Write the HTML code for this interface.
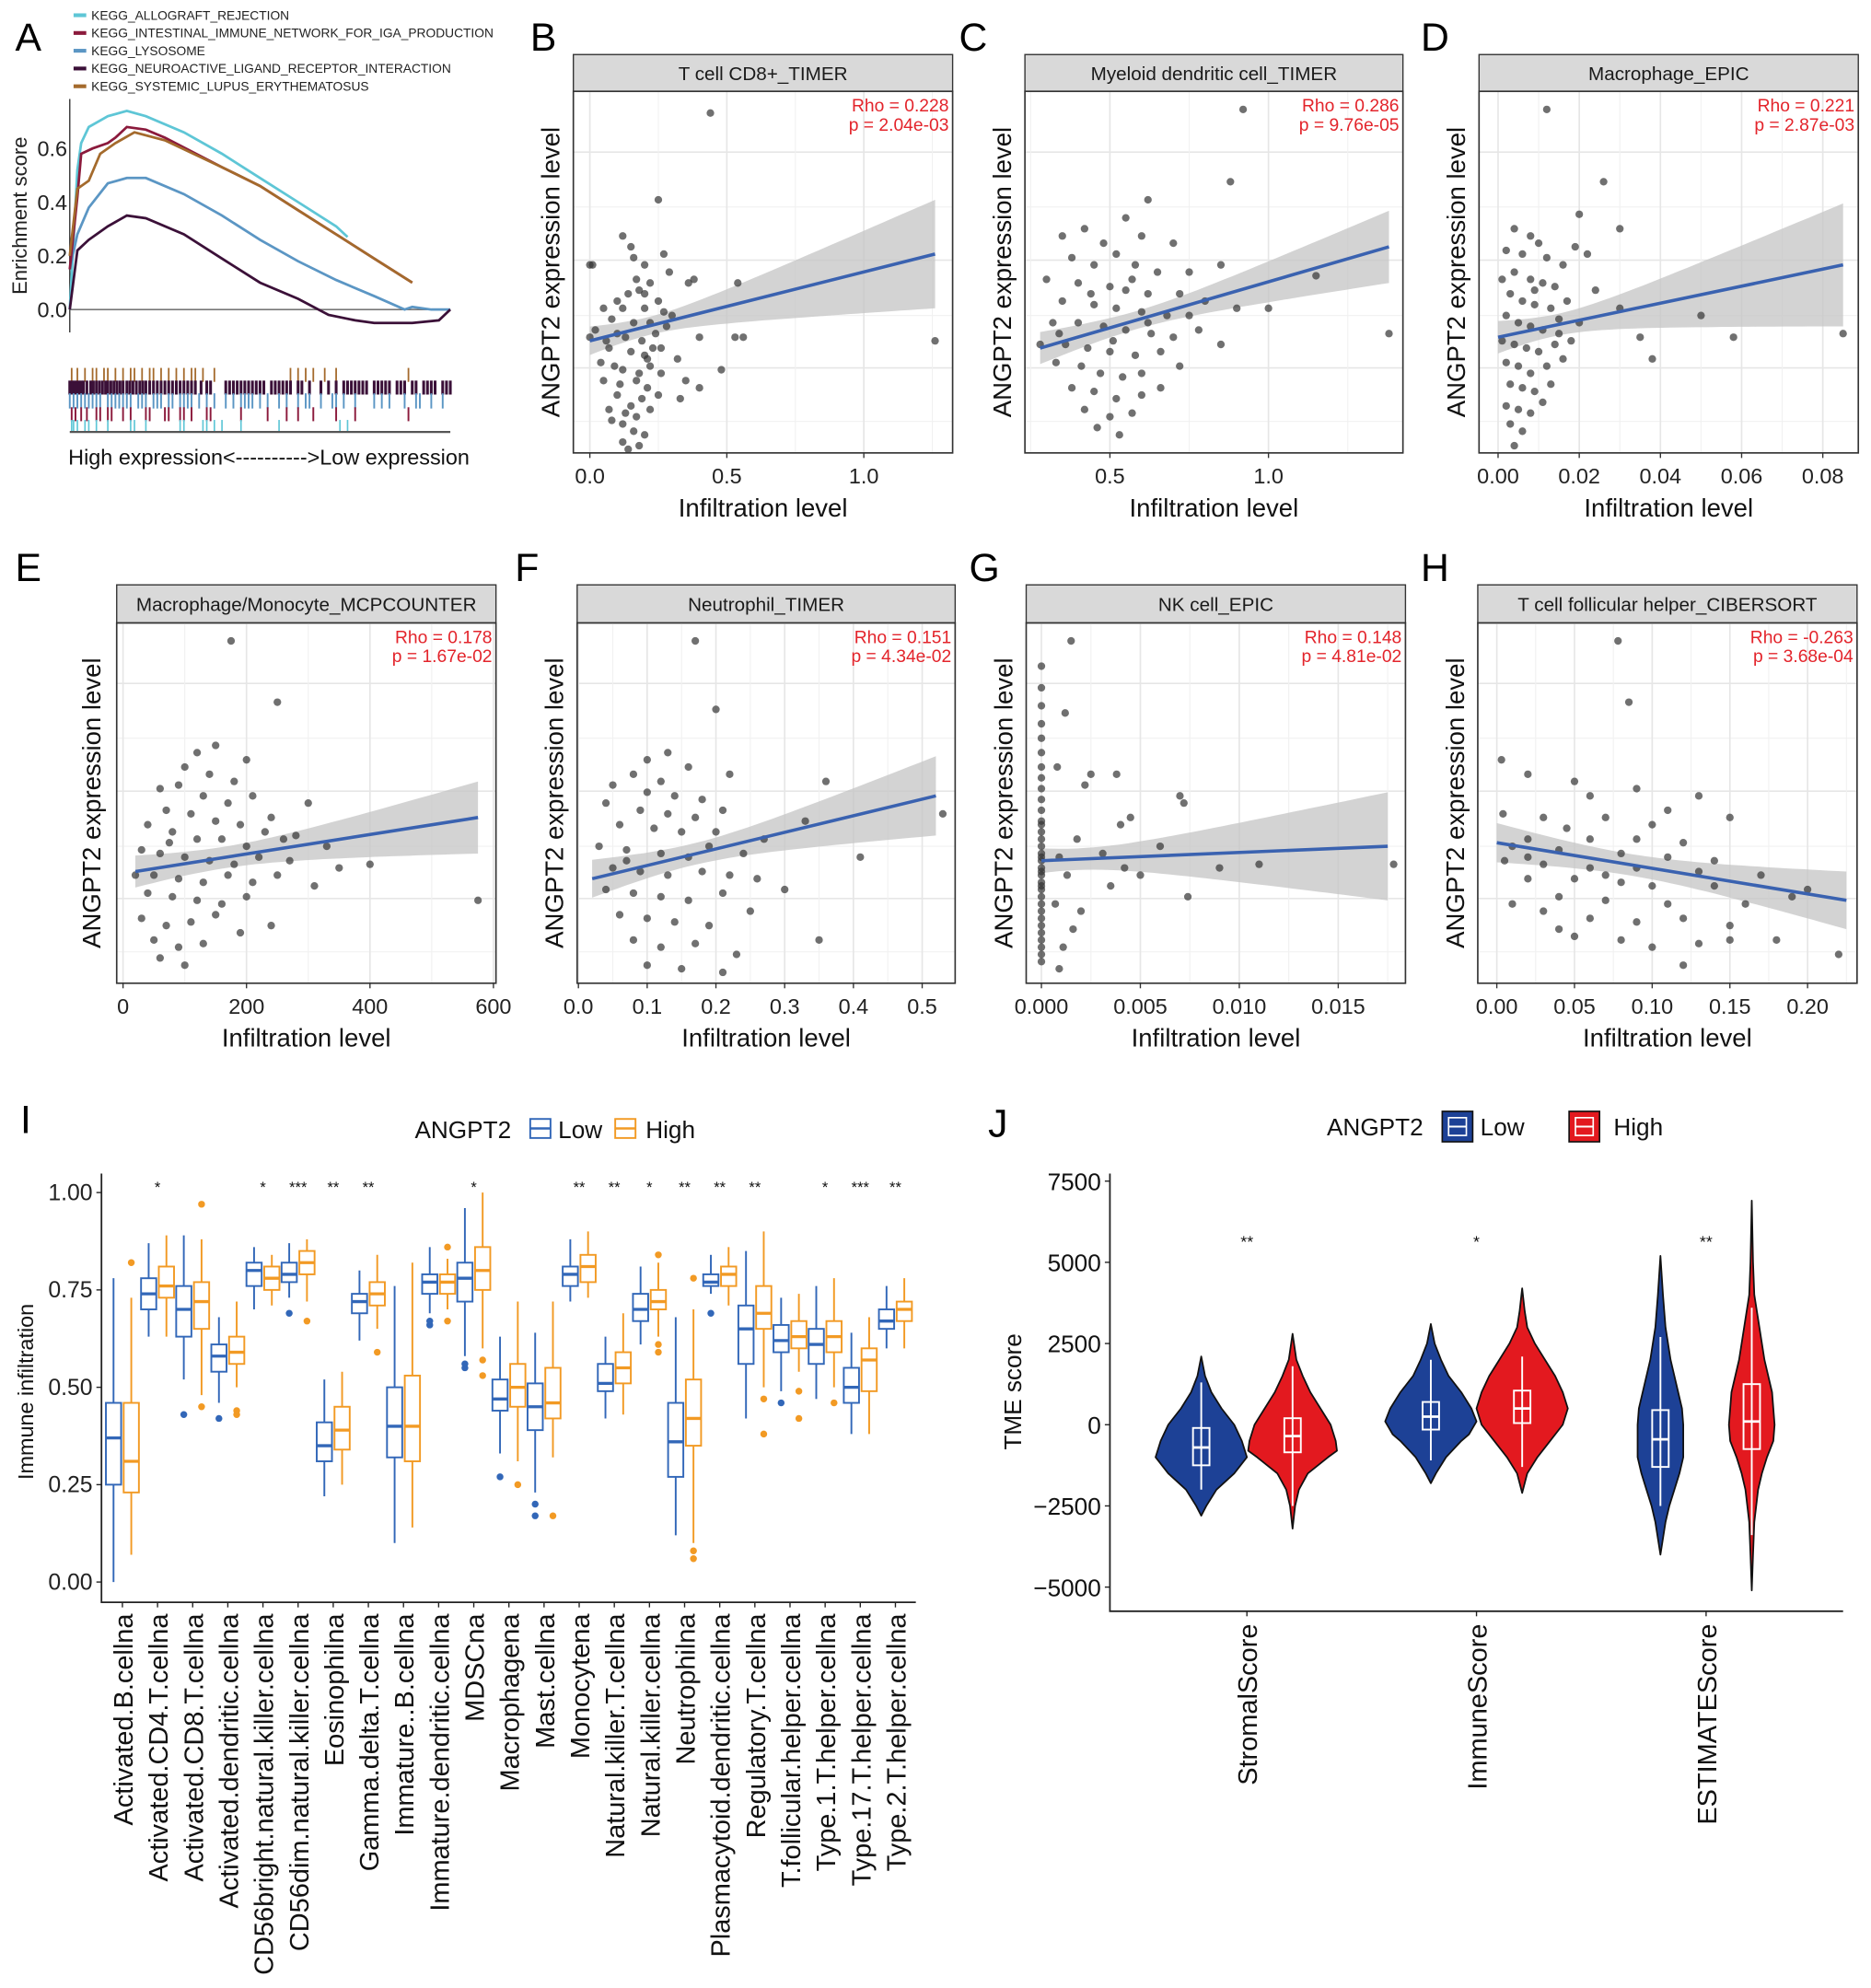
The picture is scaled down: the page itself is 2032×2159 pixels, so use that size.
<!DOCTYPE html>
<html><head><meta charset="utf-8"><style>
html,body{margin:0;padding:0;background:#fff;}
svg{display:block;font-family:"Liberation Sans",Arial,sans-serif;}
</style></head><body>
<svg id="fig" xmlns="http://www.w3.org/2000/svg" width="2032" height="2159" viewBox="0 0 1475 1567" preserveAspectRatio="none"></svg>
<script>
// ---------------- Panel A data ----------------
const gseaNames = ["KEGG_ALLOGRAFT_REJECTION","KEGG_INTESTINAL_IMMUNE_NETWORK_FOR_IGA_PRODUCTION","KEGG_LYSOSOME","KEGG_NEUROACTIVE_LIGAND_RECEPTOR_INTERACTION","KEGG_SYSTEMIC_LUPUS_ERYTHEMATOSUS"];
const gseaColors = ["#5ec6d6","#8b1a3c","#5b96c4","#3b1038","#a46a2c"];
const esAllograftX = [0,0.02,0.03,0.05,0.1,0.15,0.2,0.3,0.4,0.5,0.6,0.7,0.73];
const esAllograftY = [0,0.52,0.62,0.68,0.72,0.74,0.72,0.66,0.58,0.49,0.40,0.31,0.27];
const esIgaX = [0,0.02,0.03,0.06,0.1,0.12,0.15,0.2,0.25,0.4,0.5,0.6,0.7,0.8,0.9];
const esIgaY = [0.15,0.42,0.58,0.60,0.62,0.64,0.68,0.67,0.64,0.53,0.46,0.37,0.28,0.19,0.10];
const esLysoX = [0,0.02,0.05,0.1,0.15,0.2,0.3,0.4,0.5,0.6,0.7,0.8,0.88,0.9,0.95,1.0];
const esLysoY = [0.15,0.28,0.38,0.47,0.49,0.49,0.43,0.35,0.26,0.18,0.11,0.05,0.0,0.01,0.0,0.0];
const esNeuroX = [0,0.02,0.05,0.1,0.15,0.2,0.3,0.4,0.5,0.6,0.68,0.75,0.8,0.9,0.97,1.0];
const esNeuroY = [0.0,0.22,0.26,0.31,0.35,0.34,0.28,0.19,0.10,0.04,-0.02,-0.04,-0.05,-0.05,-0.04,0.0];
const esSleX = [0,0.02,0.05,0.08,0.12,0.17,0.25,0.4,0.5,0.6,0.7,0.8,0.9];
const esSleY = [0.2,0.45,0.48,0.58,0.62,0.66,0.63,0.53,0.46,0.37,0.28,0.19,0.10];
const esTicks = [0.0,0.2,0.4,0.6];
const esTickLabels = ["0.0","0.2","0.4","0.6"];
const rugBrown = [0.005,0.02,0.04,0.06,0.07,0.09,0.1,0.12,0.14,0.16,0.17,0.19,0.21,0.22,0.24,0.26,0.28,0.3,0.32,0.33,0.35,0.38,0.58,0.6,0.62,0.64,0.67,0.7,0.89];
const rugDark = [0,0.006,0.012,0.018,0.024,0.03,0.036,0.045,0.055,0.062,0.07,0.078,0.086,0.094,0.1,0.108,0.116,0.124,0.132,0.14,0.15,0.158,0.166,0.175,0.184,0.192,0.2,0.21,0.22,0.23,0.24,0.25,0.26,0.27,0.28,0.29,0.3,0.31,0.32,0.33,0.345,0.36,0.37,0.41,0.42,0.43,0.44,0.45,0.46,0.47,0.48,0.49,0.5,0.51,0.53,0.54,0.55,0.56,0.57,0.58,0.6,0.61,0.63,0.66,0.68,0.7,0.72,0.73,0.74,0.75,0.76,0.77,0.78,0.8,0.81,0.82,0.83,0.84,0.86,0.87,0.88,0.9,0.91,0.93,0.94,0.95,0.96,0.98,0.99,1.0];
const rugBlue = [0,0.01,0.02,0.03,0.04,0.05,0.06,0.07,0.08,0.1,0.11,0.12,0.13,0.14,0.15,0.16,0.18,0.19,0.2,0.22,0.23,0.24,0.26,0.27,0.29,0.3,0.31,0.32,0.34,0.36,0.38,0.41,0.43,0.45,0.46,0.47,0.48,0.5,0.52,0.55,0.57,0.6,0.62,0.63,0.66,0.69,0.7,0.72,0.75,0.8,0.82,0.84,0.88,0.91,0.92,0.95,0.98];
const rugRed = [0.005,0.015,0.03,0.045,0.07,0.08,0.1,0.11,0.14,0.16,0.2,0.21,0.25,0.26,0.29,0.3,0.32,0.36,0.37,0.45,0.52,0.57,0.6,0.64,0.7,0.75,0.89];
const rugCyan = [0.005,0.01,0.02,0.04,0.05,0.07,0.1,0.16,0.17,0.2,0.29,0.3,0.35,0.36,0.38,0.4,0.45,0.55,0.71,0.73];

// ---------------- Scatter data (x: infiltration, y: expression 0-100 of panel) ----------------
const bX=[0.44,0.25,0.12,0.0,0.01,0.27,0.15,0.16,0.2,0.29,0.36,0.38,0.54,0.22,0.18,0.14,0.1,0.05,0.12,0.2,0.25,0.3,0.08,0.16,0.22,0.28,0.0,0.02,0.1,0.13,0.19,0.24,0.4,0.53,0.56,1.26,0.07,0.15,0.2,0.26,0.32,0.48,0.09,0.12,0.18,0.22,0.26,0.05,0.11,0.17,0.21,0.35,0.4,0.1,0.15,0.19,0.25,0.33,0.07,0.13,0.17,0.22,0.08,0.12,0.16,0.2,0.12,0.18,0.14,0.21,0.06,0.04,0.23,0.27,0.2,0.17];
const bY=[94,70,60,52,52,55,57,54,52,50,47,48,47,47,45,44,42,40,40,40,42,38,37,36,36,35,32,34,33,32,31,33,32,32,32,31,29,28,27,29,26,23,24,23,22,24,22,20,19,20,18,20,18,16,13,15,16,15,12,11,10,12,9,8,6,5,3,2,1,26,31,25,29,39,44,48];
const cX=[0.92,0.88,0.62,0.55,0.35,0.42,0.6,0.7,0.48,0.52,0.38,0.45,0.58,0.65,0.75,0.85,1.15,0.3,0.4,0.5,0.55,0.62,0.72,0.8,0.35,0.45,0.52,0.6,0.68,0.9,1.0,0.32,0.4,0.48,0.55,0.63,0.7,0.78,0.28,0.36,0.43,0.5,0.58,0.66,0.85,1.38,0.33,0.41,0.47,0.54,0.6,0.72,0.38,0.45,0.52,0.6,0.66,0.42,0.5,0.57,0.46,0.53,0.62,0.75,0.44,0.57,0.34,0.51];
const cY=[95,75,70,65,60,62,60,58,58,55,54,52,52,50,50,52,49,48,47,46,45,44,44,42,42,41,40,39,38,40,40,36,36,35,34,33,32,34,30,30,29,28,27,28,30,33,25,24,22,21,22,24,18,17,15,16,18,12,10,11,7,5,36,38,44,48,33,31];
const dX=[0.012,0.026,0.02,0.03,0.004,0.008,0.01,0.002,0.006,0.012,0.016,0.022,0.019,0.004,0.008,0.011,0.014,0.003,0.006,0.009,0.013,0.017,0.024,0.002,0.005,0.008,0.011,0.015,0.02,0.05,0.001,0.004,0.007,0.01,0.014,0.018,0.035,0.058,0.085,0.002,0.005,0.008,0.012,0.016,0.038,0.003,0.006,0.009,0.013,0.002,0.005,0.008,0.011,0.003,0.006,0.004,0.009,0.001,0.015,0.03];
const dY=[95,75,66,62,62,60,58,56,55,54,52,55,57,50,48,47,46,44,42,41,40,42,45,38,36,35,34,33,36,38,31,30,29,28,30,31,32,32,33,25,24,22,24,26,26,19,18,17,19,13,12,11,14,8,6,2,45,48,37,40];
const eX=[175,250,150,120,200,100,140,180,90,60,130,170,210,300,240,70,110,150,190,230,40,80,120,160,200,260,330,30,60,100,140,180,220,270,400,20,50,90,130,170,210,250,575,40,80,120,160,200,30,70,110,150,190,240,50,90,130,60,100,280,350,75,310];
const eY=[95,78,66,64,62,60,58,56,55,54,52,50,52,50,46,48,47,45,44,42,44,42,40,40,38,40,38,37,36,35,34,33,35,34,33,30,30,29,28,30,28,30,23,25,24,23,22,24,18,16,17,19,14,16,12,10,11,7,5,41,32,39,27];
const fX=[0.17,0.2,0.13,0.1,0.16,0.08,0.12,0.22,0.36,0.05,0.1,0.14,0.18,0.04,0.09,0.13,0.17,0.21,0.06,0.11,0.15,0.2,0.27,0.33,0.03,0.07,0.12,0.16,0.24,0.05,0.09,0.13,0.18,0.22,0.41,0.53,0.04,0.08,0.12,0.16,0.21,0.3,0.06,0.1,0.14,0.19,0.25,0.08,0.12,0.17,0.23,0.1,0.15,0.21,0.35,0.07,0.19,0.26];
const fY=[95,76,64,62,60,58,56,58,56,55,53,52,51,50,48,47,46,48,44,43,42,42,40,45,38,37,36,35,36,32,31,30,31,30,35,47,26,25,24,23,25,26,19,18,17,16,20,12,10,11,8,5,4,3,12,34,38,29];
const gX=[0,0,0,0,0,0,0,0,0,0,0,0,0,0,0,0,0,0,0,0,0,0,0,0,0,0,0,0,0,0,0,0,0,0,0,0.0015,0.0012,0.0008,0.0025,0.0038,0.0072,0.007,0.0022,0.004,0.0018,0.006,0.0009,0.0013,0.0042,0.011,0.0178,0.005,0.0035,0.0074,0.0007,0.002,0.0016,0.0011,0.0009,0.009,0.0031,0.0045];
const gY=[88,82,77,72,68,64,60,57,54,51,48,45,42,40,38,36,34,32,30,28,26,24,22,20,18,16,14,12,10,8,6,44,35,31,27,95,75,60,58,58,50,52,55,44,40,38,35,30,32,33,33,30,27,24,22,20,15,10,4,32,36,46];
const hX=[0.078,0.085,0.003,0.02,0.05,0.09,0.13,0.06,0.11,0.004,0.03,0.07,0.15,0.1,0.045,0.02,0.06,0.09,0.12,0.01,0.04,0.08,0.11,0.14,0.005,0.03,0.06,0.09,0.13,0.17,0.02,0.05,0.08,0.1,0.14,0.2,0.04,0.07,0.11,0.16,0.01,0.03,0.06,0.09,0.12,0.15,0.05,0.08,0.1,0.13,0.15,0.18,0.22,0.12,0.04,0.19,0.02,0.07];
const hY=[95,78,62,58,56,54,52,52,48,47,46,46,46,44,43,40,40,40,39,38,37,36,35,34,34,33,32,32,31,30,29,29,28,27,27,26,24,23,22,22,22,20,18,17,18,16,13,12,10,11,12,12,8,5,15,24,35,30];
// regression lines [xStart, yStart, xEnd, yEnd]
const lineB=[0,31,1.26,55], lineC=[0.28,29,1.38,57], lineD=[0,32,0.085,52], lineE=[20,31,575,46];
const lineF=[0.02,29,0.52,52], lineG=[0,34,0.0175,38], lineH=[0,39,0.225,23];
const rhoVals=["0.228","0.286","0.221","0.178","0.151","0.148","-0.263"];
const pVals=["2.04e-03","9.76e-05","2.87e-03","1.67e-02","4.34e-02","4.81e-02","3.68e-04"];
const tickB=[0,0.5,1.0], tickBL=["0.0","0.5","1.0"];
const tickC=[0.5,1.0], tickCL=["0.5","1.0"];
const tickD=[0,0.02,0.04,0.06,0.08], tickDL=["0.00","0.02","0.04","0.06","0.08"];
const tickE=[0,200,400,600], tickEL=["0","200","400","600"];
const tickF=[0,0.1,0.2,0.3,0.4,0.5], tickFL=["0.0","0.1","0.2","0.3","0.4","0.5"];
const tickG=[0,0.005,0.01,0.015], tickGL=["0.000","0.005","0.010","0.015"];
const tickH=[0,0.05,0.1,0.15,0.2], tickHL=["0.00","0.05","0.10","0.15","0.20"];

// ---------------- Panel I data ----------------
const cellTypes=["Activated.B.cellna","Activated.CD4.T.cellna","Activated.CD8.T.cellna","Activated.dendritic.cellna","CD56bright.natural.killer.cellna","CD56dim.natural.killer.cellna","Eosinophilna","Gamma.delta.T.cellna","Immature..B.cellna","Immature.dendritic.cellna","MDSCna","Macrophagena","Mast.cellna","Monocytena","Natural.killer.T.cellna","Natural.killer.cellna","Neutrophilna","Plasmacytoid.dendritic.cellna","Regulatory.T.cellna","T.follicular.helper.cellna","Type.1.T.helper.cellna","Type.17.T.helper.cellna","Type.2.T.helper.cellna"];
// [lower whisker, q1, median, q3, upper whisker]
const lowStats=[[0,0.25,0.37,0.46,0.78],[0.63,0.70,0.74,0.78,0.87],[0.52,0.63,0.70,0.76,0.89],[0.46,0.54,0.58,0.61,0.68],[0.70,0.76,0.80,0.82,0.86],[0.73,0.77,0.79,0.82,0.87],[0.22,0.31,0.35,0.41,0.52],[0.62,0.69,0.72,0.74,0.80],[0.10,0.32,0.40,0.50,0.76],[0.69,0.74,0.77,0.79,0.86],[0.58,0.72,0.78,0.82,0.96],[0.33,0.44,0.47,0.52,0.63],[0.23,0.39,0.45,0.51,0.64],[0.72,0.76,0.79,0.81,0.88],[0.42,0.49,0.51,0.56,0.63],[0.61,0.67,0.70,0.74,0.81],[0.12,0.27,0.36,0.46,0.68],[0.74,0.76,0.77,0.79,0.84],[0.42,0.56,0.65,0.71,0.85],[0.49,0.59,0.62,0.66,0.73],[0.47,0.56,0.61,0.65,0.76],[0.38,0.46,0.50,0.55,0.64],[0.60,0.65,0.67,0.70,0.76]];
const highStats=[[0.07,0.23,0.31,0.46,0.73],[0.63,0.73,0.76,0.81,0.89],[0.48,0.65,0.72,0.77,0.88],[0.50,0.56,0.59,0.63,0.72],[0.71,0.75,0.78,0.81,0.84],[0.72,0.79,0.82,0.85,0.88],[0.25,0.34,0.39,0.45,0.54],[0.65,0.71,0.74,0.77,0.84],[0.14,0.31,0.40,0.53,0.82],[0.70,0.74,0.77,0.79,0.83],[0.60,0.75,0.80,0.86,1.00],[0.31,0.45,0.50,0.56,0.72],[0.32,0.42,0.46,0.55,0.72],[0.73,0.77,0.81,0.84,0.90],[0.43,0.51,0.55,0.59,0.69],[0.63,0.70,0.72,0.75,0.82],[0.10,0.35,0.42,0.52,0.70],[0.71,0.76,0.79,0.81,0.86],[0.50,0.65,0.69,0.76,0.90],[0.54,0.60,0.63,0.67,0.74],[0.50,0.59,0.63,0.67,0.78],[0.38,0.49,0.57,0.60,0.68],[0.60,0.67,0.70,0.72,0.78]];
const lowOut=[[],[],[0.43],[0.42],[],[0.69],[],[],[],[0.66,0.67],[0.55,0.56],[0.27],[0.17,0.20],[],[],[],[],[0.69],[],[0.46],[],[],[]];
const highOut=[[0.82],[],[0.45,0.97],[0.43,0.44],[],[0.67],[],[0.59],[],[0.67,0.86],[0.53,0.57],[0.25],[0.17],[],[],[0.59,0.61,0.84],[0.06,0.08,0.78],[],[0.38,0.47],[0.42,0.49],[0.46],[],[]];
const sigStars=["","*","","","*","***","**","**","","","*","","","**","**","*","**","**","**","","*","***","**"];
const iTicks=[0,0.25,0.5,0.75,1.0], iTickLabels=["0.00","0.25","0.50","0.75","1.00"];

// ---------------- Panel J data ----------------
const tmeGroups=["StromalScore","ImmuneScore","ESTIMATEScore"];
const tmeStars=["**","*","**"];
const jTicks=[-5000,-2500,0,2500,5000,7500], jTickLabels=["\u22125000","\u22122500","0","2500","5000","7500"];
const vStromalLowV=[2100,1500,1000,500,0,-500,-1000,-1500,-2000,-2500,-2800], vStromalLowW=[0,3,8,16,26,32,36,26,12,4,0];
const vStromalHighV=[2800,2000,1500,1000,500,0,-500,-800,-1000,-1500,-2000,-2500,-3200], vStromalHighW=[0,3,8,14,22,30,34,35,28,12,5,2,0];
const vImmuneLowV=[3100,2500,2000,1500,1000,500,100,-300,-500,-1000,-1500,-1800], vImmuneLowW=[0,3,8,14,24,32,36,30,24,12,4,0];
const vImmuneHighV=[4200,3500,3000,2500,2000,1500,1000,500,0,-500,-1000,-1500,-2100], vImmuneHighW=[0,2,4,10,18,26,32,36,32,22,12,4,0];
const vEstLowV=[5200,4000,3000,2000,1000,500,0,-1000,-1500,-2000,-2500,-3000,-3500,-4000], vEstLowW=[0,2,4,8,14,17,18,18,15,11,7,4,2,0];
const vEstHighV=[6900,5000,4000,3000,2000,1000,0,-500,-1000,-1500,-2000,-3000,-4000,-5100], vEstHighW=[0,1,2,6,10,16,18,17,12,8,5,2,1,0];
// [lower whisker, q1, median, q3, upper whisker]
const tmeLowBox=[[-2000,-1250,-700,-100,1300],[-1100,-150,250,700,2000],[-2500,-1300,-450,450,2700]];
const tmeHighBox=[[-2500,-850,-350,200,1800],[-1300,50,500,1050,2100],[-3400,-750,100,1250,3600]];

// =============== drawing ===============
const NS="http://www.w3.org/2000/svg";
const svg=document.getElementById("fig");
function mk(tag,attrs,parent){const e=document.createElementNS(NS,tag);for(const k in attrs)e.setAttribute(k,attrs[k]);(parent||svg).appendChild(e);return e;}
function tx(str,attrs,parent){const e=mk("text",attrs,parent);e.textContent=str;return e;}
function lin(d0,p0,d1,p1){return v=>p0+(v-d0)*(p1-p0)/(d1-d0);}

function letter(ch,x,y){
  const t=tx(ch,{x:x,y:y,"font-size":31,fill:"#000"});
  
  
}
[["A",12,40],["B",418,40],["C",756,40],["D",1120,40],["E",12,458],["F",406,458],["G",764,458],["H",1120,458],["I",16,893],["J",779,896]].forEach(a=>letter(a[0],a[1],a[2]));

// ---- Panel A ----
(function(){
  const g=mk("g",{});
  
  
  const xs=lin(0,55,1,355), ys=lin(0,244,0.6,117);
  gseaNames.forEach((n,i)=>{
    const y=12+i*14;
    const l=mk("line",{x1:58,x2:68,y1:y,y2:y,stroke:gseaColors[i],"stroke-width":3},g);
    
    
    const t=tx(n,{x:72,y:y+3.5,"font-size":10,fill:"#222"},g);
    
    
  });
  const ax=mk("line",{x1:55,x2:55,y1:78,y2:262,stroke:"#333","stroke-width":1},g);
  
  
  const zl=mk("line",{x1:55,x2:355,y1:ys(0),y2:ys(0),stroke:"#777","stroke-width":1.2},g);
  
  
  esTicks.forEach((v,i)=>{
    const t=tx(esTickLabels[i],{x:53,y:ys(v)+6,"font-size":17,"text-anchor":"end",fill:"#222"},g);
    
    
  });
  const yt=tx("Enrichment score",{x:0,y:0,"font-size":16,"text-anchor":"middle",fill:"#222",transform:"translate(21,170) rotate(-90)"},g);
  
  
  const series=[[esAllograftX,esAllograftY,0],[esLysoX,esLysoY,2],[esNeuroX,esNeuroY,3],[esIgaX,esIgaY,1],[esSleX,esSleY,4]];
  series.forEach(s=>{
    const d=s[0].map((x,i)=>(i?"L":"M")+xs(x).toFixed(1)+","+ys(s[1][i]).toFixed(1)).join(" ");
    const p=mk("path",{d:d,fill:"none",stroke:gseaColors[s[2]],"stroke-width":2},g);
    
    
  });
  const rugs=[[rugBrown,4,290,301,1.3],[rugDark,3,300,311,2.2],[rugBlue,2,310,322,1.4],[rugRed,1,321,332,1.4],[rugCyan,0,331,340,1.2]];
  rugs.forEach(r=>{
    r[0].forEach(f=>{
      const l=mk("line",{x1:xs(f),x2:xs(f),y1:r[2],y2:r[3],stroke:gseaColors[r[1]],"stroke-width":r[4]},g);
      
      
    });
  });
  const bl=mk("line",{x1:55,x2:355,y1:340.5,y2:340.5,stroke:"#555","stroke-width":1.6},g);
  
  
  const ht=tx("High expression<---------->Low expression",{x:212,y:366,"font-size":17,"text-anchor":"middle",fill:"#111"},g);
  
  
})();

// ---- Scatter panels ----
function scatter(c){
  const g=mk("g",{});
  
  
  const hdr=mk("rect",{x:c.x0,y:c.hy,width:c.x1-c.x0,height:c.y0-c.hy,fill:"#d9d9d9",stroke:"#333","stroke-width":1},g);
  
  
  const ht=tx(c.title,{x:(c.x0+c.x1)/2,y:(c.hy+c.y0)/2+5.5,"font-size":15,"text-anchor":"middle",fill:"#1a1a1a"},g);
  
  
  const xs=lin(c.d0,c.p0,c.d1,c.p1), ys=lin(0,c.y1,100,c.y0);
  [8.7,23.5,38,53.3,68,83.2].forEach((v,i)=>{
    const l=mk("line",{x1:c.x0,x2:c.x1,y1:ys(v),y2:ys(v),stroke:i%2?"#e6e6e6":"#f1f1f1","stroke-width":i%2?1.2:0.8},g);
    
    
  });
  const step=c.ticks.length>1?c.ticks[1]-c.ticks[0]:0.5;
  for(let t=c.ticks[0]-step;t<=c.ticks[c.ticks.length-1]+step+1e-9;t+=step/2){
    const px=xs(t); if(px<c.x0||px>c.x1) continue;
    const major=Math.abs((t-c.ticks[0])/step-Math.round((t-c.ticks[0])/step))<0.01;
    const l=mk("line",{x1:px,x2:px,y1:c.y0,y2:c.y1,stroke:major?"#e6e6e6":"#f1f1f1","stroke-width":major?1.2:0.8},g);
    
    
  }
  const xm=c.px.reduce((a,b)=>a+b,0)/c.px.length;
  const L=c.line, ly=x=>L[1]+(x-L[0])*(L[3]-L[1])/(L[2]-L[0]);
  const far=Math.max(Math.abs(L[2]-xm),Math.abs(L[0]-xm));
  const k=(c.ciEnd*c.ciEnd-c.ciMid*c.ciMid)/(far*far);
  const hw=x=>Math.sqrt(c.ciMid*c.ciMid+k*(x-xm)*(x-xm));
  const N=40, up=[], dn=[];
  for(let i=0;i<=N;i++){const x=L[0]+(L[2]-L[0])*i/N;up.push(xs(x).toFixed(1)+","+ys(ly(x)+hw(x)).toFixed(1));dn.unshift(xs(x).toFixed(1)+","+ys(ly(x)-hw(x)).toFixed(1));}
  const band=mk("polygon",{points:up.concat(dn).join(" "),fill:"#c4c4c4","fill-opacity":0.75},g);
  
  
  c.px.forEach((x,i)=>{
    const pt=mk("circle",{cx:xs(x),cy:ys(c.py[i]),r:3,fill:"#333","fill-opacity":0.7},g);
    
    
  });
  const rl=mk("line",{x1:xs(L[0]),y1:ys(L[1]),x2:xs(L[2]),y2:ys(L[3]),stroke:"#3a62b0","stroke-width":2.6},g);
  
  
  const fr=mk("rect",{x:c.x0,y:c.y0,width:c.x1-c.x0,height:c.y1-c.y0,fill:"none",stroke:"#333","stroke-width":1.2},g);
  
  
  const r1=tx("Rho = "+c.rho,{x:c.x1-3,y:c.y0+16,"font-size":14,"text-anchor":"end",fill:"#e3242b"},g);
  
  
  const r2=tx("p = "+c.p,{x:c.x1-3,y:c.y0+31,"font-size":14,"text-anchor":"end",fill:"#e3242b"},g);
  
  
  c.ticks.forEach((t,i)=>{
    const tk=mk("line",{x1:xs(t),x2:xs(t),y1:c.y1,y2:c.y1+4,stroke:"#333","stroke-width":1},g);
    
    
    const tl=tx(c.tickL[i],{x:xs(t),y:c.y1+24,"font-size":17,"text-anchor":"middle",fill:"#222"},g);
    
    
  });
  const xt=tx("Infiltration level",{x:(c.x0+c.x1)/2,y:c.y1+50,"font-size":20,"text-anchor":"middle",fill:"#111"},g);
  
  
  const yt=tx("ANGPT2 expression level",{x:0,y:0,"font-size":20,"text-anchor":"middle",fill:"#111",transform:"translate("+c.yl+","+((c.y0+c.y1)/2)+") rotate(-90)"},g);
  
  
}
const R1={hy:43,y0:72,y1:357}, R2={hy:461,y0:491,y1:775};
scatter(Object.assign({key:"b",title:"T cell CD8+_TIMER",x0:452,x1:751,d0:0,p0:465,d1:1,p1:681,ticks:tickB,tickL:tickBL,px:bX,py:bY,line:lineB,ciMid:2.5,ciEnd:15,rho:rhoVals[0],p:pVals[0],yl:441},R1));
scatter(Object.assign({key:"c",title:"Myeloid dendritic cell_TIMER",x0:808,x1:1106,d0:0.5,p0:875,d1:1,p1:1000,ticks:tickC,tickL:tickCL,px:cX,py:cY,line:lineC,ciMid:2.5,ciEnd:10,rho:rhoVals[1],p:pVals[1],yl:797},R1));
scatter(Object.assign({key:"d",title:"Macrophage_EPIC",x0:1166,x1:1465,d0:0,p0:1181,d1:0.08,p1:1437,ticks:tickD,tickL:tickDL,px:dX,py:dY,line:lineD,ciMid:3,ciEnd:17,rho:rhoVals[2],p:pVals[2],yl:1155},R1));
scatter(Object.assign({key:"e",title:"Macrophage/Monocyte_MCPCOUNTER",x0:92,x1:391,d0:0,p0:97,d1:600,p1:389,ticks:tickE,tickL:tickEL,px:eX,py:eY,line:lineE,ciMid:3,ciEnd:10,rho:rhoVals[3],p:pVals[3],yl:79},R2));
scatter(Object.assign({key:"f",title:"Neutrophil_TIMER",x0:455,x1:753,d0:0,p0:456,d1:0.5,p1:727,ticks:tickF,tickL:tickFL,px:fX,py:fY,line:lineF,ciMid:3,ciEnd:11,rho:rhoVals[4],p:pVals[4],yl:444},R2));
scatter(Object.assign({key:"g",title:"NK cell_EPIC",x0:809,x1:1108,d0:0,p0:821,d1:0.015,p1:1055,ticks:tickG,tickL:tickGL,px:gX,py:gY,line:lineG,ciMid:3,ciEnd:15,rho:rhoVals[5],p:pVals[5],yl:798},R2));
scatter(Object.assign({key:"h",title:"T cell follicular helper_CIBERSORT",x0:1165,x1:1464,d0:0,p0:1180,d1:0.2,p1:1425,ticks:tickH,tickL:tickHL,px:hX,py:hY,line:lineH,ciMid:3,ciEnd:8,rho:rhoVals[6],p:pVals[6],yl:1154},R2));

// ---- Panel I ----
(function(){
  const g=mk("g",{});
  
  
  const LOW="#3267b8", HIGH="#f29a24";
  const ys=lin(0,1247,1,940), xc=i=>96.5+i*27.7;
  const ax=mk("polyline",{points:"80,925 80,1263 722,1263",fill:"none",stroke:"#222","stroke-width":1.3},g);
  
  
  iTicks.forEach((v,i)=>{
    const tk=mk("line",{x1:76,x2:80,y1:ys(v),y2:ys(v),stroke:"#222"},g);
    
    
    const t=tx(iTickLabels[i],{x:73,y:ys(v)+6,"font-size":18,"text-anchor":"end",fill:"#222"},g);
    
    
  });
  const yt=tx("Immune infiltration",{x:0,y:0,"font-size":17,"text-anchor":"middle",fill:"#111",transform:"translate(26,1097) rotate(-90)"},g);
  
  
  function box(st,out,cx,col){
    const w=12;
    const wl=mk("line",{x1:cx,x2:cx,y1:ys(st[0]),y2:ys(st[4]),stroke:col,"stroke-width":1.4},g);
    
    
    const b=mk("rect",{x:cx-w/2,y:ys(st[3]),width:w,height:ys(st[1])-ys(st[3]),fill:"#fff",stroke:col,"stroke-width":1.4},g);
    
    
    const m=mk("line",{x1:cx-w/2,x2:cx+w/2,y1:ys(st[2]),y2:ys(st[2]),stroke:col,"stroke-width":2.4},g);
    
    
    out.forEach(o=>{
      const c=mk("circle",{cx:cx,cy:ys(o),r:2.7,fill:col},g);
      
      
    });
  }
  cellTypes.forEach((n,i)=>{
    const cx=xc(i);
    box(lowStats[i],lowOut[i],cx-7,LOW);
    box(highStats[i],highOut[i],cx+7,HIGH);
    const tk=mk("line",{x1:cx,x2:cx,y1:1263,y2:1267,stroke:"#222"},g);
    
    
    const t=tx(n,{x:0,y:0,"font-size":21,"text-anchor":"end",fill:"#111",transform:"translate("+(cx+8)+",1272) rotate(-90)"},g);
    
    
    if(sigStars[i]){
      const s=tx(sigStars[i],{x:cx,y:940,"font-size":12,"text-anchor":"middle",fill:"#111"},g);
      
      
    }
  });
  const lt=tx("ANGPT2",{x:327,y:897,"font-size":19,fill:"#111"},g);
  
  
  [[418,LOW,"Low",440],[485,HIGH,"High",509]].forEach(e=>{
    const r=mk("rect",{x:e[0],y:882,width:16,height:15,fill:"#fff",stroke:e[1],"stroke-width":1.4},g);
    
    
    const m=mk("line",{x1:e[0],x2:e[0]+16,y1:889.5,y2:889.5,stroke:e[1],"stroke-width":1.8},g);
    
    
    const t=tx(e[2],{x:e[3],y:897,"font-size":19,fill:"#111"},g);
    
    
  });
})();

// ---- Panel J ----
(function(){
  const g=mk("g",{});
  
  
  const LOW="#1d4196", HIGH="#e3191f";
  const ys=lin(-5000,1251,7500,931);
  const centers=[983,1164,1345];
  const ax=mk("polyline",{points:"875,925 875,1270 1453,1270",fill:"none",stroke:"#222","stroke-width":1.3},g);
  
  
  jTicks.forEach((v,i)=>{
    const tk=mk("line",{x1:871,x2:875,y1:ys(v),y2:ys(v),stroke:"#222"},g);
    
    
    const t=tx(jTickLabels[i],{x:868,y:ys(v)+7,"font-size":19,"text-anchor":"end",fill:"#111"},g);
    
    
  });
  const yt=tx("TME score",{x:0,y:0,"font-size":19,"text-anchor":"middle",fill:"#111",transform:"translate(805,1097) rotate(-90)"},g);
  
  
  const prof=[[vStromalLowV,vStromalLowW,vStromalHighV,vStromalHighW],[vImmuneLowV,vImmuneLowW,vImmuneHighV,vImmuneHighW],[vEstLowV,vEstLowW,vEstHighV,vEstHighW]];
  function violin(V,W,cx,col){
    const r=V.map((v,i)=>(cx+W[i]).toFixed(1)+","+ys(v).toFixed(1));
    const l=V.map((v,i)=>(cx-W[i]).toFixed(1)+","+ys(v).toFixed(1)).reverse();
    const p=mk("polygon",{points:r.concat(l).join(" "),fill:col,stroke:"#111","stroke-width":1.3,"stroke-linejoin":"round"},g);
    
    
  }
  function box(st,cx){
    const w=13;
    const wl=mk("line",{x1:cx,x2:cx,y1:ys(st[0]),y2:ys(st[4]),stroke:"#fff","stroke-width":1.4},g);
    
    
    const b=mk("rect",{x:cx-w/2,y:ys(st[3]),width:w,height:ys(st[1])-ys(st[3]),fill:"none",stroke:"#fff","stroke-width":1.4},g);
    
    
    const m=mk("line",{x1:cx-w/2,x2:cx+w/2,y1:ys(st[2]),y2:ys(st[2]),stroke:"#fff","stroke-width":2},g);
    
    
  }
  tmeGroups.forEach((n,i)=>{
    const c=centers[i];
    violin(prof[i][0],prof[i][1],c-36,LOW);
    violin(prof[i][2],prof[i][3],c+36,HIGH);
    box(tmeLowBox[i],c-36);
    box(tmeHighBox[i],c+36);
    const s=tx(tmeStars[i],{x:c,y:983,"font-size":13,"text-anchor":"middle",fill:"#111"},g);
    
    
    const tk=mk("line",{x1:c,x2:c,y1:1270,y2:1274,stroke:"#222"},g);
    
    
    const t=tx(n,{x:0,y:0,"font-size":21,"text-anchor":"end",fill:"#111",transform:"translate("+(c+8)+",1280) rotate(-90)"},g);
    
    
  });
  const lt=tx("ANGPT2",{x:1046,y:895,"font-size":19,fill:"#111"},g);
  
  
  [[1137,LOW,"Low",1167],[1237,HIGH,"High",1272]].forEach(e=>{
    const r=mk("rect",{x:e[0],y:876,width:24,height:24,fill:e[1],stroke:"#111","stroke-width":1.2},g);
    
    
    const b=mk("rect",{x:e[0]+5,y:881,width:14,height:14,fill:"none",stroke:"#fff","stroke-width":1.2},g);
    
    
    const m=mk("line",{x1:e[0]+5,x2:e[0]+19,y1:888,y2:888,stroke:"#fff","stroke-width":1.4},g);
    
    
    const t=tx(e[2],{x:e[3],y:895,"font-size":19,fill:"#111"},g);
    
    
  });
})();
</script>
</body></html>
